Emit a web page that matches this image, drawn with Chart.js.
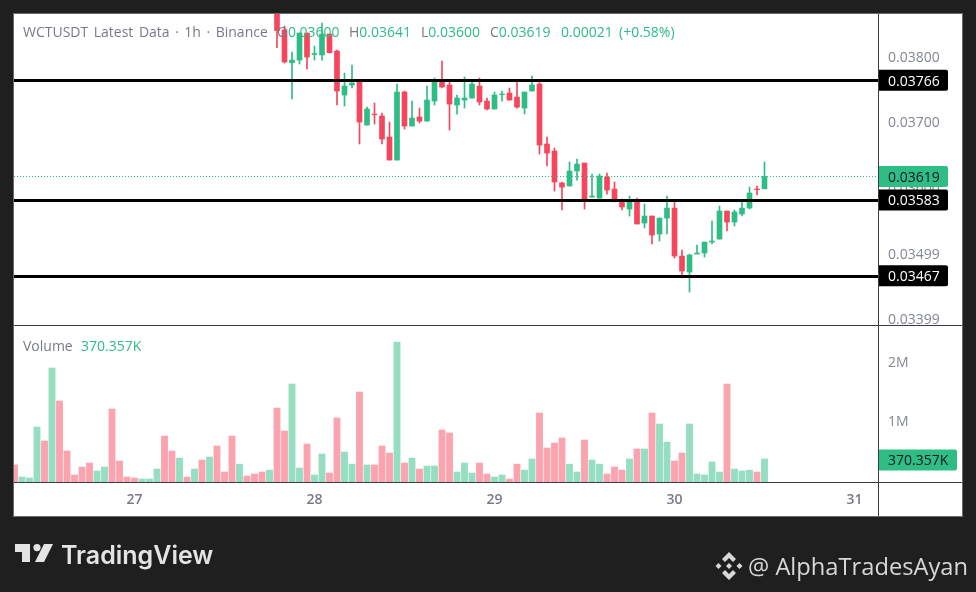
<!DOCTYPE html>
<html>
<head>
<meta charset="utf-8">
<title>WCTUSDT</title>
<script src="https://cdn.jsdelivr.net/npm/chart.js@4/dist/chart.umd.min.js"></script>
<style>
  html, body { margin: 0; padding: 0; background: #1f1f1f; width: 976px; height: 592px; overflow: hidden; }
  #wrap { position: relative; width: 976px; height: 592px; font-family: "Open Sans", sans-serif; }
  canvas { position: absolute; left: 0; top: 0; }
  .t { position: absolute; font-size: 14px; line-height: 18px; white-space: nowrap; color: #787b86; }
  .g { color: #2ebd85; }
  #brand { position: absolute; left: 61px; top: 538px; font: 600 25px/34px Inter, sans-serif; color: #e4e4e4; }
  #handle { position: absolute; left: 748px; top: 549px; font-size: 23.7px; line-height: 34px; color: #d8d8d8; white-space: nowrap; }
  svg { position: absolute; }
</style>
</head>
<body>
<div id="wrap">
  <canvas id="chart" width="976" height="592"></canvas>
  <div class="t" style="left:23px;top:23px;word-spacing:1.9px">WCTUSDT Latest Data · 1h · Binance</div>
  <div class="t" style="left:277px;top:23px">O<span class="g">0.03600</span></div>
  <div class="t" style="left:349px;top:23px">H<span class="g">0.03641</span></div>
  <div class="t" style="left:421px;top:23px">L<span class="g">0.03600</span></div>
  <div class="t" style="left:490px;top:23px">C<span class="g">0.03619</span></div>
  <div class="t g" style="left:561px;top:23px">0.00021</div>
  <div class="t g" style="left:619px;top:23px">(+0.58%)</div>
  <div class="t" style="left:23px;top:337px">Volume</div>
  <div class="t g" style="left:81px;top:337px">370.357K</div>
  <svg style="left:15px;top:544px" width="38" height="19" viewBox="0 0 38 19" fill="#e4e4e4">
    <path d="M0 0H15V18H7V8H0Z"/><circle cx="22" cy="3.6" r="3.6"/><path d="M29 0H38L29 18H20Z"/>
  </svg>
  <div id="brand">TradingView</div>
  <svg style="left:715px;top:552px" width="28" height="28" viewBox="0 0 28 28" fill="#d8d8d8">
    <path d="M14 0L21 7L18 10L14 6L10 10L7 7Z"/><path d="M14 28L21 21L18 18L14 22L10 18L7 21Z"/>
    <path d="M14 11L17 14L14 17L11 14Z"/><path d="M3.5 11L6.5 14L3.5 17L0.5 14Z"/><path d="M24.5 11L27.5 14L24.5 17L21.5 14Z"/>
  </svg>
  <div id="handle">@ AlphaTradesAyan</div>
</div>
<script>
// index of the first candle that shows, the ones before it are above the pane
const firstCandle = 35;

const opens = [
  0.03889, 0.038428, 0.037928, 0.037969, 0.038382, 0.038054, 0.038046, 0.038367, 0.038107, 0.037434, 0.037587,
  0.037648, 0.036975, 0.037143, 0.037113, 0.036792, 0.03644, 0.03748, 0.03696, 0.037098, 0.037036, 0.037342,
  0.037648, 0.037587, 0.037281, 0.037357, 0.037388, 0.037572, 0.037342, 0.03722, 0.037439, 0.037465, 0.037403,
  0.037235, 0.037495, 0.037602, 0.036685, 0.036578, 0.036089, 0.036043, 0.036272, 0.036394, 0.035874, 0.035859,
  0.03618, 0.035997, 0.035813, 0.035691, 0.035813, 0.035477, 0.035584, 0.035309, 0.035553, 0.035706, 0.034972,
  0.034728, 0.035003, 0.035018, 0.035186, 0.035232, 0.03566, 0.035492, 0.035615, 0.035706, 0.035997, 0.036
];
const highs = [
  0.03895, 0.038489, 0.038092, 0.038382, 0.038382, 0.038183, 0.038535, 0.038367, 0.038122, 0.03777, 0.037893,
  0.037663, 0.03725, 0.037312, 0.037159, 0.037021, 0.037602, 0.037495, 0.037342, 0.037235, 0.037572, 0.037694,
  0.037954, 0.037633, 0.037434, 0.037709, 0.037648, 0.037694, 0.037388, 0.03748, 0.037495, 0.037541, 0.037633,
  0.03748, 0.037724, 0.037633, 0.036792, 0.036624, 0.036104, 0.03641, 0.036456, 0.036394, 0.036226, 0.036226,
  0.036241, 0.036104, 0.035844, 0.03589, 0.035859, 0.035767, 0.035584, 0.035553, 0.03589, 0.035813, 0.035064,
  0.035003, 0.035141, 0.035186, 0.035508, 0.035737, 0.03566, 0.035676, 0.035798, 0.036027, 0.036043, 0.03641
];
const lows = [
  0.03816, 0.037924, 0.037373, 0.037908, 0.037832, 0.037969, 0.037969, 0.038076, 0.037281, 0.037266, 0.037541,
  0.036685, 0.036975, 0.03699, 0.036685, 0.03644, 0.03644, 0.036914, 0.03696, 0.037006, 0.037036, 0.037281,
  0.037541, 0.036899, 0.037143, 0.037235, 0.037388, 0.037281, 0.037205, 0.03722, 0.037342, 0.037357, 0.037235,
  0.037143, 0.037495, 0.036532, 0.036349, 0.035966, 0.035676, 0.036043, 0.036134, 0.035691, 0.035874, 0.035859,
  0.03592, 0.035798, 0.035676, 0.035584, 0.035462, 0.0354, 0.035156, 0.035202, 0.035309, 0.034942, 0.034636,
  0.034422, 0.035003, 0.034957, 0.035156, 0.035232, 0.035355, 0.035431, 0.035584, 0.035691, 0.035905, 0.036
];
const closes = [
  0.03842, 0.037939, 0.037969, 0.038382, 0.038015, 0.038069, 0.038367, 0.038081, 0.037495, 0.037572, 0.037617,
  0.037021, 0.03722, 0.037133, 0.036761, 0.03644, 0.03748, 0.03696, 0.037082, 0.037036, 0.037357, 0.037663,
  0.037556, 0.037296, 0.037388, 0.037388, 0.037602, 0.037327, 0.03722, 0.037434, 0.037449, 0.037357, 0.03725,
  0.03748, 0.037587, 0.036669, 0.036547, 0.036104, 0.036027, 0.036272, 0.036379, 0.035829, 0.03589, 0.036196,
  0.035982, 0.035813, 0.035722, 0.035813, 0.035462, 0.035584, 0.035293, 0.035553, 0.035706, 0.034972, 0.034743,
  0.034988, 0.035018, 0.035186, 0.035202, 0.03566, 0.035492, 0.035645, 0.035706, 0.035936, 0.035987, 0.03619
];

// volume in millions, one per hour from the left edge of the chart
const volumes = [
  0.286, 0.084, 0.067, 0.924, 0.689, 1.916, 1.361, 0.521, 0.118, 0.252, 0.319, 0.185, 0.252, 1.227, 0.353, 0.084, 0.067,
  0.05, 0.05, 0.218, 0.773, 0.521, 0.403, 0.084, 0.218, 0.37, 0.42, 0.605, 0.168, 0.773, 0.3, 0.1, 0.134, 0.168, 0.2,
  1.244, 0.857, 1.647, 0.235, 0.639, 0.118, 0.47, 0.151, 1.076, 0.504, 0.3, 1.513, 0.286, 0.286, 0.605, 0.487, 2.353,
  0.319, 0.403, 0.218, 0.269, 0.269, 0.874, 0.824, 0.168, 0.319, 0.151, 0.319, 0.134, 0.084, 0.118, 0.05, 0.3, 0.2,
  0.387, 1.16, 0.571, 0.655, 0.74, 0.3, 0.168, 0.706, 0.37, 0.3, 0.134, 0.252, 0.2, 0.387, 0.555, 0.555, 1.16, 0.975,
  0.672, 0.353, 0.487, 0.975, 0.134, 0.118, 0.336, 0.168, 1.647, 0.218, 0.185, 0.2, 0.168, 0.387
];
const volumeUp = [
  0, 1, 1, 1, 0, 1, 0, 0, 0, 0, 0, 1, 1, 0, 0, 0, 0,
  1, 1, 1, 0, 0, 1, 0, 1, 0, 1, 0, 0, 0, 1, 0, 0, 0, 1,
  0, 0, 1, 1, 0, 1, 1, 0, 0, 1, 1, 0, 1, 0, 0, 0, 1,
  0, 1, 0, 1, 1, 0, 0, 1, 1, 1, 0, 0, 1, 1, 0, 0, 1,
  1, 0, 0, 0, 0, 1, 1, 0, 1, 1, 0, 0, 0, 1, 0, 1, 0, 1,
  1, 0, 0, 1, 1, 1, 1, 1, 0, 1, 1, 1, 0, 1
];

const dayLabels = ['27', '28', '29', '30', '31'];
const dayIndexes = [16, 40, 64, 88, 112];
const priceTicks = [0.038, 0.037, 0.036, 0.03499, 0.03399];
const volumeTicks = [1, 2];
const levels = [0.03766, 0.03583, 0.03467];
const lastPrice = 0.03619;
const lastVolume = 0.370357;

const UP = '#2ebd85';
const DOWN = '#f6465d';
const UP_SOFT = '#95dec1';
const DOWN_SOFT = '#fba3af';
const AXIS = '#3a3d46';
const MUTED = '#838791';

const bodies = opens.map((o, i) => ({ x: firstCandle + i, y: [o, closes[i]] }));
const wicks = lows.map((l, i) => ({ x: firstCandle + i, y: [l, highs[i]] }));
const candleColors = opens.map((o, i) => (closes[i] >= o ? UP : DOWN));
const volumeBars = volumes.map((v, i) => ({ x: i, y: v }));

function tag(ctx, x, y, w, h, fill, textColor, text) {
  ctx.fillStyle = fill;
  ctx.beginPath();
  ctx.roundRect(x, y - h / 2, w, h, [0, 2, 2, 0]);
  ctx.fill();
  ctx.fillStyle = textColor;
  ctx.textAlign = 'left';
  ctx.textBaseline = 'middle';
  ctx.fillText(text, 888, y + 1.5);
}

// the label overhang must not push the panes away from the frame
function noOverhang(scale) {
  scale.paddingTop = 0;
  scale.paddingBottom = 0;
  scale.paddingLeft = 0;
  scale.paddingRight = 0;
}

const panePlugin = {
  id: 'pane',
  beforeDraw(chart) {
    const ctx = chart.ctx;
    ctx.save();
    ctx.fillStyle = '#ffffff';
    ctx.fillRect(13, 13, 949.5, 503);
    ctx.strokeStyle = '#6a6a6a';
    ctx.lineWidth = 1;
    ctx.strokeRect(13.5, 13.5, 949, 503);
    ctx.restore();
  },
  afterDatasetsDraw(chart) {
    const ctx = chart.ctx;
    const y = chart.scales.y;
    const v = chart.scales.yVol;
    const area = chart.chartArea;
    ctx.save();
    ctx.strokeStyle = UP;
    ctx.lineWidth = 1;
    ctx.setLineDash([1, 2]);
    const lastY = Math.round(y.getPixelForValue(lastPrice)) + 0.5;
    ctx.beginPath();
    ctx.moveTo(area.left, lastY);
    ctx.lineTo(area.right, lastY);
    ctx.stroke();
    ctx.setLineDash([]);
    ctx.strokeStyle = '#000000';
    ctx.lineWidth = 3;
    levels.forEach(level => {
      const py = Math.round(y.getPixelForValue(level)) + 0.5;
      ctx.beginPath();
      ctx.moveTo(area.left, py);
      ctx.lineTo(area.right, py);
      ctx.stroke();
    });
    ctx.strokeStyle = AXIS;
    ctx.lineWidth = 1;
    ctx.beginPath();
    ctx.moveTo(area.right + 0.5, 14);
    ctx.lineTo(area.right + 0.5, 516);
    ctx.moveTo(14, Math.round(y.bottom) + 0.5);
    ctx.lineTo(962, Math.round(y.bottom) + 0.5);
    ctx.moveTo(14, Math.round(v.bottom) + 0.5);
    ctx.lineTo(962, Math.round(v.bottom) + 0.5);
    ctx.stroke();
    ctx.restore();
  },
  afterDraw(chart) {
    const ctx = chart.ctx;
    const y = chart.scales.y;
    const v = chart.scales.yVol;
    const left = chart.chartArea.right + 1;
    ctx.save();
    ctx.font = '14px "Open Sans"';
    tag(ctx, left, y.getPixelForValue(lastPrice), 69, 21, UP, '#131722', lastPrice.toFixed(5));
    levels.forEach(level => {
      tag(ctx, left, y.getPixelForValue(level), 69, 21, '#000000', '#ffffff', level.toFixed(5));
    });
    tag(ctx, left, v.getPixelForValue(lastVolume), 78, 21, UP, '#131722', '370.357K');
    ctx.restore();
  }
};

new Chart(document.getElementById('chart'), {
  data: {
    datasets: [
      { type: 'bar', data: bodies, yAxisID: 'y', backgroundColor: candleColors, barThickness: 5, grouped: false },
      { type: 'bar', data: wicks, yAxisID: 'y', backgroundColor: candleColors, barThickness: 1, grouped: false },
      {
        type: 'bar',
        data: volumeBars,
        yAxisID: 'yVol',
        backgroundColor: volumeUp.map(u => (u ? UP_SOFT : DOWN_SOFT)),
        barThickness: 6.2,
        grouped: false
      }
    ]
  },
  options: {
    responsive: false,
    animation: false,
    devicePixelRatio: 1,
    layout: { padding: { left: 14, right: 14, top: 14, bottom: 76 } },
    plugins: { legend: { display: false }, tooltip: { enabled: false } },
    scales: {
      x: {
        type: 'linear',
        offset: false,
        min: -0.0667,
        max: 115.1333,
        grid: { display: false },
        border: { display: false },
        afterFit(scale) { scale.height = 34; noOverhang(scale); },
        afterBuildTicks(scale) { scale.ticks = dayIndexes.map(value => ({ value })); },
        ticks: {
          autoSkip: false,
          maxRotation: 0,
          padding: 2,
          color: '#787b86',
          font: { family: 'Open Sans', size: 14, weight: '600' },
          callback: value => dayLabels[dayIndexes.indexOf(value)]
        }
      },
      y: {
        position: 'right',
        stack: 'panes',
        stackWeight: 311,
        weight: 0,
        min: 0.033918,
        max: 0.038673,
        grid: { display: false },
        border: { display: false },
        afterFit(scale) { scale.width = 84; noOverhang(scale); },
        afterBuildTicks(scale) { scale.ticks = priceTicks.map(value => ({ value })); },
        ticks: {
          padding: 2,
          color: MUTED,
          font: { family: 'Open Sans', size: 14 },
          callback: value => value.toFixed(5)
        }
      },
      yVol: {
        position: 'right',
        stack: 'panes',
        stackWeight: 157,
        weight: 1,
        min: 0,
        max: 2.639,
        grid: { display: false },
        border: { display: false },
        afterFit(scale) { scale.width = 84; noOverhang(scale); },
        afterBuildTicks(scale) { scale.ticks = volumeTicks.map(value => ({ value })); },
        ticks: {
          padding: 2,
          color: MUTED,
          font: { family: 'Open Sans', size: 14 },
          callback: value => value + 'M'
        }
      }
    }
  },
  plugins: [panePlugin]
});
</script>
</body>
</html>
